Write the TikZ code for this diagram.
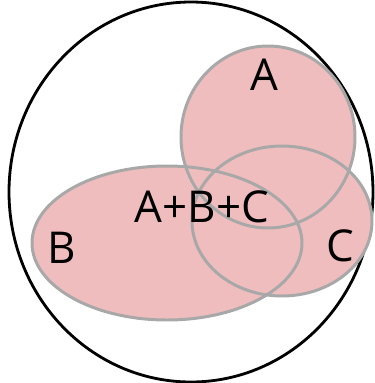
\documentclass[tikz,border=0pt]{standalone}
\usepackage{fontspec}
\setmainfont{Open Sans}
\usepackage{xcolor}
\usepackage{tikz}
\definecolor{setpink}{RGB}{239,189,190}
\definecolor{setgray}{RGB}{168,168,168}

\begin{document}
\begin{tikzpicture}[x=0.02cm,y=-0.02cm,font=\fontsize{25}{28}\selectfont,
  setline/.style={draw=setgray,line width=1.7pt},
  setfill/.style={fill=setpink}]
  \useasboundingbox (0,0) rectangle (375,383);
  % universe
  \draw[line width=1.6pt] (191,192) ellipse [x radius=182,y radius=190];
  % fills first, outlines over them
  \fill[setfill] (268,137) ellipse [x radius=87,y radius=91];
  \fill[setfill] (167,243) ellipse [x radius=135,y radius=77];
  \fill[setfill] (282,221) ellipse [x radius=90,y radius=75];
  \draw[setline] (268,137) ellipse [x radius=87,y radius=91];
  \draw[setline] (167,243) ellipse [x radius=135,y radius=77];
  \draw[setline] (282,221) ellipse [x radius=90,y radius=75];
  % labels
  \node (lblA) at (264,75) {A};
  \node (lblB) at (62,248) {B};
  \node (lblC) at (340,246) {C};
  \node (lblABC) at (202,207) {A+B+C};
\end{tikzpicture}
\end{document}
